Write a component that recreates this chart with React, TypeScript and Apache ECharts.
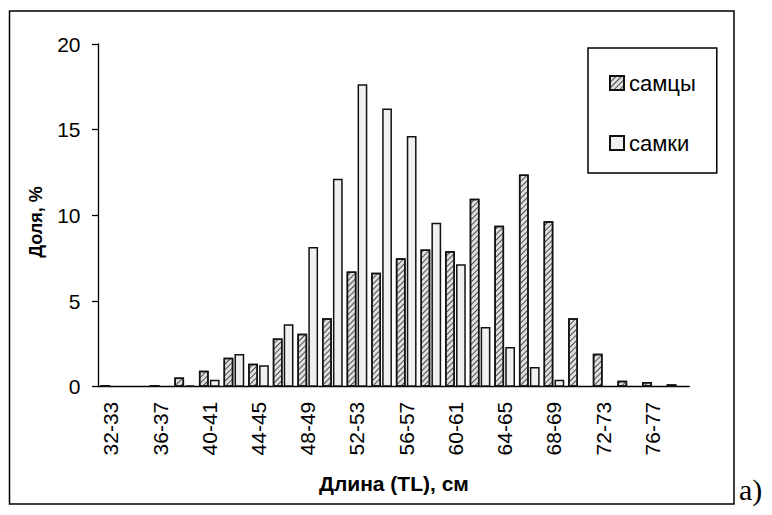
import React, { useEffect, useRef } from "react";
import * as echarts from "echarts";

const categories = [
  "32-33", "34-35", "36-37", "38-39", "40-41", "42-43", "44-45", "46-47",
  "48-49", "50-51", "52-53", "54-55", "56-57", "58-59", "60-61", "62-63",
  "64-65", "66-67", "68-69", "70-71", "72-73", "74-75", "76-77", "78-79",
];
const males = [
  0.1, null, 0.1, 0.53, 0.93, 1.69, 1.34, 2.82, 3.09, 3.99, 6.73, 6.65,
  7.49, 8.0, 7.9, 10.97, 9.4, 12.39, 9.65, 3.99, 1.93, 0.35, 0.27, 0.14,
];
const females = [
  null, null, null, 0.08, 0.41, 1.91, 1.25, 3.64, 8.15, 12.14, 17.65, 16.23,
  14.63, 9.57, 7.14, 3.48, 2.32, 1.15, 0.41, null, null, null, null, null,
];
const yTicks = { min: 0, max: 20, interval: 5 };

const FONT = "'Liberation Sans', Arial, sans-serif";

export default function App() {
  const ref = useRef<HTMLDivElement>(null);
  useEffect(() => {
    document.body.style.margin = "0";
    const chart = echarts.init(ref.current!, null, { renderer: "svg" });
    chart.setOption({
      animation: false,
      backgroundColor: "#ffffff",
      grid: { left: 98.5, right: 82.7, top: 44, bottom: 128.3, containLabel: false },
      legend: {
        orient: "vertical",
        left: 588,
        top: 48,
        width: 129,
        padding: [24, 21, 19, 21],
        itemGap: 38,
        itemWidth: 14,
        itemHeight: 14,
        icon: "rect",
        borderColor: "#000",
        borderWidth: 1.5,
        textStyle: { fontFamily: FONT, fontSize: 22, color: "#000" },
        data: ["самцы", "самки"],
      },
      xAxis: {
        type: "category",
        data: categories,
        name: "Длина (TL), см",
        nameLocation: "middle",
        nameGap: 86,
        nameTextStyle: { fontFamily: FONT, fontSize: 21, fontWeight: "bold", color: "#000" },
        axisLine: { lineStyle: { color: "#000", width: 1.3 } },
        axisTick: { interval: 0, length: 6, lineStyle: { color: "#000", width: 1.3 } },
        axisLabel: {
          interval: 1,
          rotate: 90,
          margin: 15,
          fontFamily: FONT,
          fontSize: 21,
          color: "#000",
        },
      },
      yAxis: {
        type: "value",
        min: yTicks.min,
        max: yTicks.max,
        interval: yTicks.interval,
        axisLine: { show: true, lineStyle: { color: "#000", width: 1.3 } },
        axisTick: { show: true, length: 6.5, lineStyle: { color: "#000", width: 1.3 } },
        splitLine: { show: false },
        axisLabel: { margin: 18, fontFamily: FONT, fontSize: 21, color: "#000" },
      },
      series: [
        {
          name: "самцы",
          type: "bar",
          data: males,
          barGap: "12%",
          barCategoryGap: "16%",
          itemStyle: {
            color: "#e0e0e0",
            borderColor: "#111",
            borderWidth: 1.5,
            decal: {
              symbol: "rect",
              symbolSize: 1,
              color: "#4a4a4a",
              backgroundColor: "#e6e6e6",
              dashArrayX: [1, 0],
              dashArrayY: [1, 2.4],
              rotation: -Math.PI / 4,
            },
          },
        },
        {
          name: "самки",
          type: "bar",
          data: females,
          barGap: "12%",
          barCategoryGap: "16%",
          itemStyle: {
            color: "#f0f0f0",
            borderColor: "#111",
            borderWidth: 1.5,
          },
        },
      ],
      graphic: [
        {
          type: "rect",
          shape: { x: 9.5, y: 11, width: 724.5, height: 493 },
          style: { fill: "none", stroke: "#000", lineWidth: 1.5 },
          silent: true,
        },
        {
          type: "text",
          x: 36,
          y: 222,
          rotation: Math.PI / 2,
          style: {
            text: "Доля, %",
            fontFamily: FONT,
            fontSize: 18,
            fontWeight: "bold",
            fill: "#000",
            align: "center",
            verticalAlign: "middle",
          },
        },
        {
          type: "text",
          x: 739,
          y: 504,
          style: {
            text: "а)",
            fontFamily: "'Liberation Serif', 'Times New Roman', serif",
            fontSize: 30,
            fill: "#000",
            textVerticalAlign: "bottom",
          },
        },
      ],
    });
    return () => chart.dispose();
  }, []);
  return <div ref={ref} style={{ width: 772, height: 515 }} />;
}
